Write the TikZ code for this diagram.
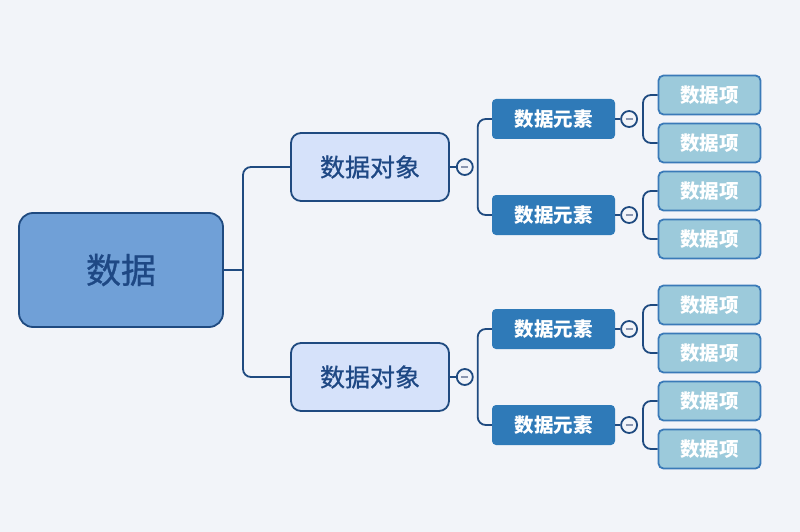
\documentclass[tikz,border=0pt]{standalone}
\usepackage{fontspec}
\newfontfamily\cjk{Noto Sans CJK SC}
\newfontfamily\cjkmid[FakeBold=0.8]{Noto Sans CJK SC}
\usepackage{xcolor}
\usetikzlibrary{positioning,calc}
\definecolor{MapBg}   {RGB}{242,244,249}
\definecolor{MapLine} {RGB}{ 31, 74,128}
\definecolor{MapText} {RGB}{ 30, 72,132}
\definecolor{RootFill}{RGB}{112,160,215}
\definecolor{ObjFill} {RGB}{214,226,250}
\definecolor{ElemFill}{RGB}{ 47,122,184}
\definecolor{ItemFill}{RGB}{156,202,219}
\definecolor{ItemEdge}{RGB}{ 58,122,184}
\definecolor{FoldMark}{RGB}{138,150,176}

\begin{document}
\begin{tikzpicture}[x=1pt,y=-1pt,
      rootbox/.style={rectangle,rounded corners=14pt,draw=MapLine,fill=RootFill,
                  line width=1.8pt,minimum width=204pt,minimum height=114pt,
                  text=MapText,font=\cjkmid\fontsize{35}{35}\selectfont},
      objbox/.style={rectangle,rounded corners=10pt,draw=MapLine,fill=ObjFill,
                  line width=1.8pt,minimum width=158pt,minimum height=68pt,
                  text=MapText,font=\cjkmid\fontsize{25}{25}\selectfont},
      elembox/.style={rectangle,rounded corners=4pt,fill=ElemFill,
                  minimum width=123pt,minimum height=40pt,
                  text=white,font=\cjk\bfseries\fontsize{19.5}{19.5}\selectfont},
      itembox/.style={rectangle,rounded corners=5pt,draw=ItemEdge,fill=ItemFill,
                  line width=1.8pt,minimum width=102pt,minimum height=39pt,
                  text=white,font=\cjk\bfseries\fontsize{19.5}{19.5}\selectfont},
      fold/.style={circle,draw=MapLine,fill=MapBg,line width=1.8pt,
                  minimum size=16pt,inner sep=0pt,
                  path picture={\draw[FoldMark,line width=1.5pt]
                    ($(path picture bounding box.center)-(3.5pt,0)$) -- ++(7pt,0);}},
      link/.style={MapLine,line width=1.8pt,rounded corners=8pt}]
    \fill[MapBg] (0,0) rectangle (800,532);
    \useasboundingbox (0,0) rectangle (800,532);

    \node[rootbox](root) at (121,270){数据};
    \coordinate (rootfork) at (243,270);
    \draw[link](root.east)--(rootfork);

    \foreach \i/\oy in {1/167,2/377}{
      \node[objbox](o\i) at (370,\oy){数据对象};
      \node[fold,right=6pt of o\i](fo\i){};
      \draw[link](o\i)--(fo\i);
      \foreach \j/\ey in {1/-48,2/48}{
        \node[elembox](e\i\j) at (553.5,\oy+\ey){数据元素};
        \node[fold,right=5pt of e\i\j](fe\i\j){};
        \draw[link](e\i\j)--(fe\i\j);
        \foreach \k/\iy in {1/-24,2/24}
          \node[itembox](t\i\j\k) at (709.5,\oy+\ey+\iy){数据项};
        \draw[link](t\i\j1.west)-|($(fe\i\j.east)+(5,0)$)|-(t\i\j2.west);
      }
      \draw[link](e\i1.west)-|($(fo\i.east)+(4,0)$)|-(e\i2.west);
    }
    \draw[link](o1.west)-|(rootfork)|-(o2.west);
  \end{tikzpicture}
\end{document}
